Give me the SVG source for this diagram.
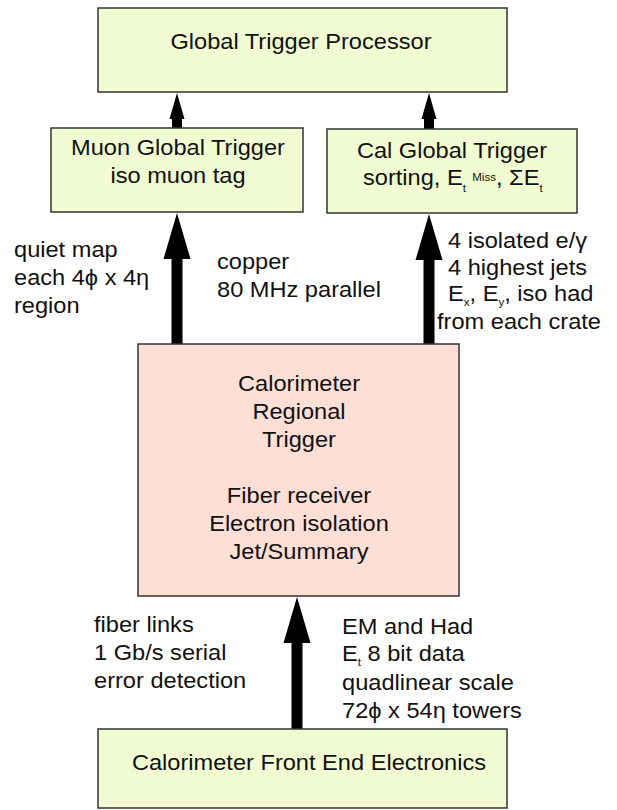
<svg xmlns="http://www.w3.org/2000/svg" width="617" height="810" viewBox="0 0 617 810">
  <style>
    .box { fill: #f1fcd3; stroke: #333; stroke-width: 1.5; }
    .crt { fill: #fddfd5; stroke: #333; stroke-width: 1.5; }
    .arr { fill: #000; }
    text { font-family: "Liberation Sans", Arial, Helvetica, sans-serif; font-size: 22.5px; fill: #111; }
    .c { text-anchor: middle; }
    .s { font-size: 11px; }
  </style>
  <rect width="617" height="810" fill="#fff"/>

  <!-- connectors -->
  <g id="connectors">
    <!-- muon / cal global -> global processor -->
    <path class="arr" d="M172 128 V119 H169.5 L177 93 L184.5 119 H182 V128 Z"/>
    <path class="arr" d="M424 129 V119 H421.5 L429 93 L436.5 119 H434 V129 Z"/>
    <!-- regional trigger -> muon / cal global -->
    <path class="arr" d="M171.5 344 V259 H163.5 L177 213 L190.5 259 H182.5 V344 Z"/>
    <path class="arr" d="M423.5 344 V260 H415.5 L429 214 L442.5 260 H434.5 V344 Z"/>
    <!-- front end -> regional trigger -->
    <path class="arr" d="M291.5 729 V643 H283.5 L297 597 L310.5 643 H302.5 V729 Z"/>
  </g>

  <g id="global-trigger-processor">
    <rect class="box" x="98" y="8" width="409" height="84"/>
    <text class="c" transform="translate(301 49) scale(1.05 1)">Global Trigger Processor</text>
  </g>

  <g id="muon-global-trigger">
    <rect class="box" x="51" y="128" width="252" height="84"/>
    <text class="c" transform="translate(178 155) scale(1.05 1)">Muon Global Trigger</text>
    <text class="c" transform="translate(178 183) scale(1.05 1)">iso muon tag</text>
  </g>

  <g id="cal-global-trigger">
    <rect class="box" x="327" y="129" width="250" height="84"/>
    <text class="c" transform="translate(452 158) scale(1.05 1)">Cal Global Trigger</text>
    <text transform="translate(363 185) scale(1.05 1)">sorting, E<tspan class="s" dy="7">t</tspan><tspan font-size="11" dx="6" dy="-11">Miss</tspan><tspan dy="4">, ΣE</tspan><tspan class="s" dy="7">t</tspan></text>
  </g>

  <g id="regional-trigger">
    <rect class="crt" x="138" y="344" width="321" height="252"/>
    <text class="c" transform="translate(299 391) scale(1.05 1)">Calorimeter</text>
    <text class="c" transform="translate(299 419) scale(1.05 1)">Regional</text>
    <text class="c" transform="translate(299 447) scale(1.05 1)">Trigger</text>
    <text class="c" transform="translate(299 503) scale(1.05 1)">Fiber receiver</text>
    <text class="c" transform="translate(299 531) scale(1.05 1)">Electron isolation</text>
    <text class="c" transform="translate(299 559) scale(1.05 1)">Jet/Summary</text>
  </g>

  <g id="front-end-electronics">
    <rect class="box" x="98" y="729" width="409" height="79"/>
    <text class="c" transform="translate(309 770) scale(1.05 1)">Calorimeter Front End Electronics</text>
  </g>

  <!-- link annotations -->
  <g id="labels">
    <text transform="translate(14 257) scale(1.05 1)">quiet map</text>
    <text transform="translate(14 285) scale(1.05 1)">each 4ϕ x 4η</text>
    <text transform="translate(14 313) scale(1.05 1)">region</text>

    <text transform="translate(217 269) scale(1.05 1)">copper</text>
    <text transform="translate(217 297) scale(1.05 1)">80 MHz parallel</text>

    <text transform="translate(448 248) scale(1.05 1)">4 isolated e/γ</text>
    <text transform="translate(448 275) scale(1.05 1)">4 highest jets</text>
    <text transform="translate(448 301) scale(1.05 1)">E<tspan class="s" dy="5">x</tspan><tspan dy="-5">, E</tspan><tspan class="s" dy="5">y</tspan><tspan dy="-5">, iso had</tspan></text>
    <text transform="translate(437 329) scale(1.05 1)">from each crate</text>

    <text transform="translate(94 632) scale(1.05 1)">fiber links</text>
    <text transform="translate(94 660) scale(1.05 1)">1 Gb/s serial</text>
    <text transform="translate(94 688) scale(1.05 1)">error detection</text>

    <text transform="translate(342 634) scale(1.05 1)">EM and Had</text>
    <text transform="translate(342 661) scale(1.05 1)">E<tspan class="s" dy="5">t</tspan><tspan dy="-5"> 8 bit data</tspan></text>
    <text transform="translate(342 690) scale(1.05 1)">quadlinear scale</text>
    <text transform="translate(342 718) scale(1.05 1)">72ϕ x 54η towers</text>
  </g>
</svg>
